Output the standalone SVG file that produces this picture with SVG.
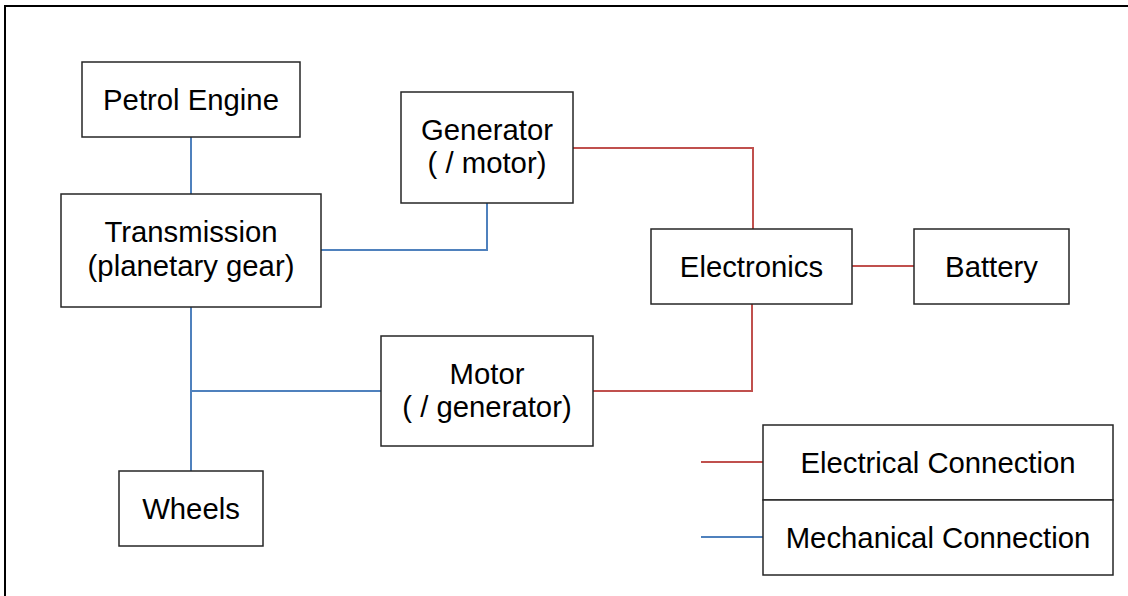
<svg xmlns="http://www.w3.org/2000/svg" width="1128" height="596" viewBox="0 0 1128 596">
<style>
.box{fill:#fff;stroke:#262626;stroke-width:1.5}
.t{font-family:"Liberation Sans",Arial,sans-serif;font-size:29.3px;fill:#000;text-anchor:middle}
.el{fill:none;stroke:#C0504D;stroke-width:2}
.me{fill:none;stroke:#4F81BD;stroke-width:2}
</style>
<rect x="0" y="0" width="1128" height="596" fill="#fff"/>
<rect x="5" y="6" width="1140" height="600" fill="none" stroke="#000" stroke-width="2"/>
<g id="connectors">
<path class="me" d="M191 137V194"/>
<path class="me" d="M321 250H487V203"/>
<path class="me" d="M191 307V471"/>
<path class="me" d="M191 391H381"/>
<path class="el" d="M573 148H753V229"/>
<path class="el" d="M852 266H914"/>
<path class="el" d="M752 304V391H593"/>
<path class="el" d="M701 462H763"/>
<path class="me" d="M701 537H763"/>
</g>
<g id="petrol-engine"><rect class="box" x="82" y="62" width="218" height="75"/><text class="t" x="191" y="110">Petrol Engine</text></g>
<g id="transmission"><rect class="box" x="61" y="194" width="260" height="113"/><text class="t" x="191" y="242">Transmission</text><text class="t" x="191" y="276">(planetary gear)</text></g>
<g id="generator"><rect class="box" x="401" y="92" width="172" height="111"/><text class="t" x="487" y="140">Generator</text><text class="t" x="487" y="173">( / motor)</text></g>
<g id="electronics"><rect class="box" x="651" y="229" width="201" height="75"/><text class="t" x="751.5" y="277">Electronics</text></g>
<g id="battery"><rect class="box" x="914" y="229" width="155" height="75"/><text class="t" x="991.5" y="277">Battery</text></g>
<g id="motor"><rect class="box" x="381" y="336" width="212" height="110"/><text class="t" x="487" y="384">Motor</text><text class="t" x="487" y="417">( / generator)</text></g>
<g id="wheels"><rect class="box" x="119" y="471" width="144" height="75"/><text class="t" x="191" y="519">Wheels</text></g>
<g id="legend">
<rect class="box" x="763" y="425" width="350" height="75"/><text class="t" x="938" y="473">Electrical Connection</text>
<rect class="box" x="763" y="500" width="350" height="75"/><text class="t" x="938" y="548">Mechanical Connection</text>
</g>
</svg>
